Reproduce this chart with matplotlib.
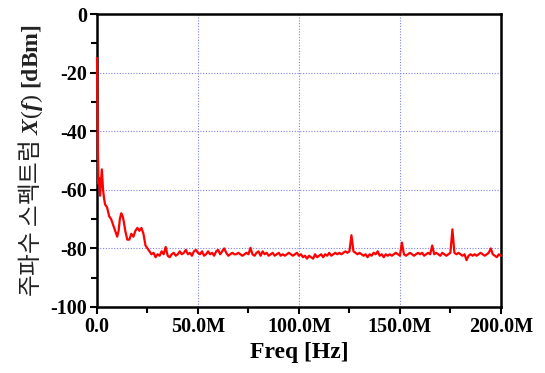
import numpy as np
import matplotlib.pyplot as plt
from matplotlib.ticker import MultipleLocator, FuncFormatter

plt.rcParams['axes.unicode_minus'] = False
plt.rcParams['mathtext.fontset'] = 'custom'
plt.rcParams['mathtext.it'] = 'Liberation Serif:italic:bold'
plt.rcParams['mathtext.bf'] = 'Liberation Serif:bold'
plt.rcParams['mathtext.rm'] = 'Liberation Serif'

# 저주파 구간 (MHz)
freq_low = [0.0, 0.2, 0.4, 0.7, 1.0, 1.5, 2.0, 2.4, 3.0, 3.5, 4.0, 5.0, 6.0, 7.0, 8.0,
            9.0, 10.0, 10.7, 11.3, 12.0, 12.7, 13.3, 14.0, 15.0, 16.0, 17.0, 18.0,
            19.0, 20.0, 21.0, 22.0, 23.0, 24.0, 25.0, 26.0, 27.0, 28.0, 29.0]
dbm_low = [-15, -30, -45, -58, -56, -62, -57, -53, -60, -63, -65, -66, -69, -70, -72,
           -74, -76, -74, -70, -68, -69, -71, -74, -77, -77, -75, -76,
           -74, -73, -74, -73, -75, -79, -80, -81, -82, -81.5, -83]

# 30 ~ 200 MHz, 1 MHz 간격
freq_high = list(range(30, 201))
dbm_high = [
    -82, -82.5, -81, -82, -79.5, -82.5, -83, -82, -81.5, -82.5,   # 30-39
    -82, -81, -82, -81.5, -80.5, -82, -81.5, -82.5, -81, -80.5,   # 40-49
    -81.5, -82, -81, -82.5, -82, -81, -82, -81.5, -82.5, -81,     # 50-59
    -80.5, -82, -81, -80, -81.5, -82.5, -82, -81.5, -82, -82,     # 60-69
    -81.5, -82, -82.5, -82, -81.5, -82, -79.8, -82, -82.5, -81.5, # 70-79
    -81, -82.5, -81, -82, -81.5, -82.5, -82, -81.5, -82.5, -82,   # 80-89
    -81.5, -82.5, -82, -82.5, -82, -81.5, -82, -82.5, -82, -81.5, # 90-99
    -82.5, -82, -83, -82.5, -83.5, -82.5, -83, -83.5, -82, -83,   # 100-109
    -82.5, -82, -83, -82, -82.5, -81.5, -82.5, -82, -81.5, -82,   # 110-119
    -81.5, -82, -81.5, -81, -81.5, -81, -75.5, -81, -81.5, -82,   # 120-129
    -81.5, -82, -82.5, -82, -83, -82, -82.5, -81.5, -82, -81,     # 130-139
    -82.5, -82, -83, -82, -82.5, -82, -82.5, -82, -81.5, -82,     # 140-149
    -82.5, -78, -82, -82.5, -82, -81.5, -82, -82.5, -82, -81.5,   # 150-159
    -82, -81.5, -82.5, -82, -81.5, -82, -79, -82, -81.5, -82,     # 160-169
    -82.5, -81.5, -82, -82.5, -82, -81.5, -73.5, -81.5, -82, -81.5, # 170-179
    -82, -82.5, -82, -84, -82.5, -82, -82.5, -82, -82.5, -82,     # 180-189
    -81.5, -82, -82.5, -82, -81.5, -80, -82, -82.5, -83, -82,     # 190-199
    -82.5,                                                         # 200
]

freq_hz = np.array(freq_low + freq_high, dtype=float) * 1e6
dbm = np.array(dbm_low + dbm_high, dtype=float)

fig = plt.figure(figsize=(5.45, 3.73), dpi=100)
ax = fig.add_axes([0.178, 0.177, 0.741, 0.785])

ax.plot(freq_hz, dbm, color='#ff0000', lw=1.6, zorder=3, clip_on=False)

ax.set_xlim(0, 200e6)
ax.set_ylim(-100, 0)
ax.xaxis.set_major_locator(MultipleLocator(50e6))
ax.xaxis.set_minor_locator(MultipleLocator(25e6))
ax.yaxis.set_major_locator(MultipleLocator(20))
ax.yaxis.set_minor_locator(MultipleLocator(10))
ax.xaxis.set_major_formatter(FuncFormatter(
    lambda v, p: '0.0' if v == 0 else '%.1fM' % (v / 1e6)))

ax.grid(True, which='major', color='#8080e8', ls=(0, (1, 1.5)), lw=0.8)

for s in ax.spines.values():
    s.set_linewidth(1.8)
ax.tick_params(which='major', direction='out', length=5, width=1.5, pad=2)
ax.tick_params(which='minor', direction='out', length=4, width=1.5)
for lab in ax.get_xticklabels() + ax.get_yticklabels():
    lab.set_fontfamily('Liberation Serif')
    lab.set_fontweight('bold')
    lab.set_fontsize(14.5)

ax.set_xlabel('Freq [Hz]', fontfamily='Liberation Serif', fontweight='bold',
              fontsize=17, labelpad=4)
ax.set_ylabel(r'주파수 스펙트럼 $\mathit{X(f)}\ \mathbf{[dBm]}$',
              fontfamily='Noto Sans CJK KR', fontsize=17, color='#222222', labelpad=4)

fig.savefig('out.png', dpi=100)
